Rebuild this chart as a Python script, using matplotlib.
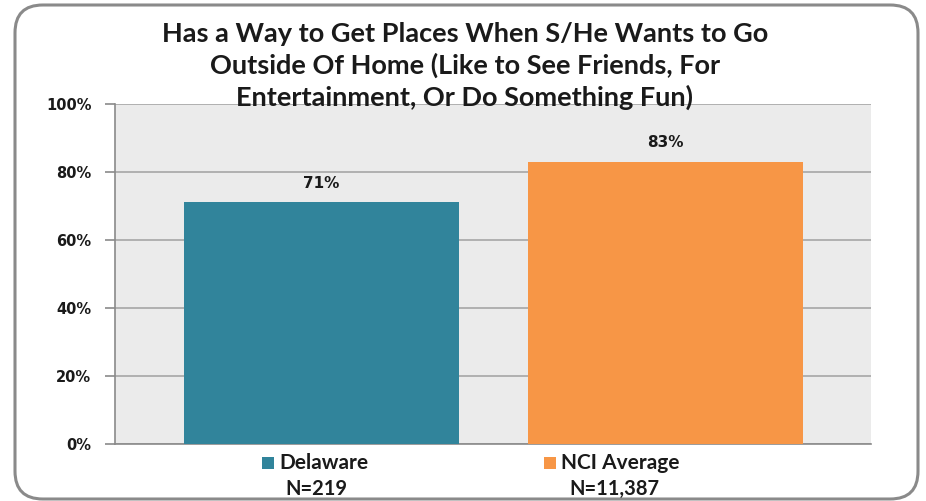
import matplotlib
matplotlib.use("Agg")
import matplotlib.pyplot as plt
from matplotlib.patches import FancyBboxPatch, Rectangle

categories = ["Delaware", "NCI Average"]
values = [71, 83]
n_labels = ["N=219", "N=11,387"]
colors = ["#31849b", "#f79646"]
yticks = [0, 20, 40, 60, 80, 100]
title = ("Has a Way to Get Places When S/He Wants to Go\n"
         "Outside Of Home (Like to See Friends, For\n"
         "Entertainment, Or Do Something Fun)")

W, H = 926, 501
fig = plt.figure(figsize=(W / 100, H / 100), dpi=100)
fig.patch.set_facecolor("white")

# rounded border
border = FancyBboxPatch((15 / W, 2 / H), (918 - 15) / W, (496 - 2) / H,
                        boxstyle="round,pad=0,rounding_size=0.03",
                        transform=fig.transFigure, facecolor="none",
                        edgecolor="#8a8a8a", linewidth=2.2, zorder=0,
                        mutation_aspect=W / H)
fig.patches.append(border)

left, right, top, bottom = 115, 871, 103.7, 444
ax = fig.add_axes([left / W, 1 - bottom / H, (right - left) / W, (bottom - top) / H])
ax.set_facecolor("#ebebeb")
x = [0, 1]
ax.bar(x, values, width=0.797, color=colors, zorder=3)
ax.set_xlim(-0.6, 1.597)
ax.set_ylim(0, 100)
ax.set_yticks(yticks)
ax.set_yticklabels([f"{t}%" for t in yticks], fontsize=10.5, fontweight="bold",
                   family="DejaVu Sans", color="#1a1a1a")
ax.set_xticks([])
ax.grid(axis="y", color="#a6a6a6", linewidth=1.2, zorder=1)
ax.tick_params(axis="y", length=7, color="#8a8a8a", width=1.2, pad=10)
for s in ["top", "right"]:
    ax.spines[s].set_visible(False)
for s in ["left", "bottom"]:
    ax.spines[s].set_color("#8a8a8a")
    ax.spines[s].set_linewidth(1.2)

for xi, v in zip(x, values):
    ax.annotate(f"{v}%", (xi, v), xytext=(0, 8), textcoords="offset points",
                ha="center", va="bottom", fontsize=11, fontweight="bold",
                family="DejaVu Sans", color="#1a1a1a")

fig.text(465 / W, 1 - 66 / H, title, ha="center", va="center", fontsize=19.5,
         fontweight="bold", family="Lato", linespacing=1.3, color="#1a1a1a")

# legend-like labels under bars
leg_x = [268, 550]
n_x = [316, 614]
for c, lab, nl, lx, nx in zip(colors, categories, n_labels, leg_x, n_x):
    fig.patches.append(Rectangle(((lx - 6) / W, 1 - 469 / H), 12 / W, 12 / H,
                                 transform=fig.transFigure, facecolor=c,
                                 edgecolor="none"))
    fig.text((lx + 11) / W, 1 - 463 / H, lab, ha="left", va="center",
             fontsize=15, fontweight="bold", family="Lato", color="#1a1a1a")
    fig.text(nx / W, 1 - 489 / H, nl, ha="center", va="center",
             fontsize=14.5, fontweight="bold", family="Lato", color="#1a1a1a")

fig.savefig("out.png", dpi=100)
